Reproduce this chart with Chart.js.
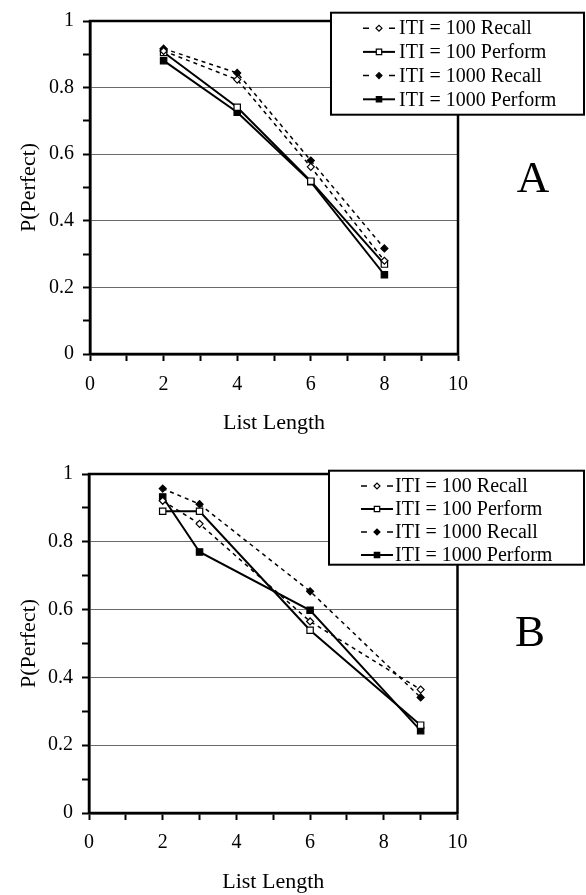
<!DOCTYPE html>
<html>
<head>
<meta charset="utf-8">
<script src="https://cdn.jsdelivr.net/npm/chart.js@4.4.1/dist/chart.umd.min.js"></script>
<style>
  body { margin: 0; background: #fff; }
  canvas { position: absolute; left: 0; }
  #chartA { top: 0; }
  #chartB { top: 447px; }
</style>
</head>
<body>
<canvas id="chartA" width="586" height="447"></canvas>
<canvas id="chartB" width="586" height="448"></canvas>
<script>
const seriesNames = ['ITI = 100 Recall', 'ITI = 100 Perform', 'ITI = 1000 Recall', 'ITI = 1000 Perform']

const listLengthA = [2, 4, 6, 8]
const recall100A = [0.91, 0.824, 0.562, 0.28]
const perform100A = [0.906, 0.741, 0.519, 0.27]
const recall1000A = [0.917, 0.844, 0.581, 0.317]
const perform1000A = [0.881, 0.726, 0.517, 0.238]

const listLengthB = [2, 3, 6, 9]
const recall100B = [0.921, 0.853, 0.565, 0.364]
const perform100B = [0.89, 0.89, 0.539, 0.259]
const recall1000B = [0.957, 0.911, 0.654, 0.341]
const perform1000B = [0.932, 0.77, 0.598, 0.243]

const xTicks = [0, 2, 4, 6, 8, 10]
const yTicks = [0, 0.2, 0.4, 0.6, 0.8, 1]

const serif = "'Liberation Serif', 'Times New Roman', serif"

function pts(xs, ys) {
    let out = []
    for (let i = 0; i < xs.length; i++) {
        out.push({ x: xs[i], y: ys[i] })
    }
    return out
}

function makeDatasets(xs, r100, p100, r1000, p1000) {
    const styles = [
        { data: r100, dash: [4, 4], width: 1.5, point: 'rectRot', radius: 3.5, fill: '#fff' },
        { data: p100, dash: [], width: 2, point: 'rect', radius: 4.5, fill: '#fff' },
        { data: r1000, dash: [4, 4], width: 1.5, point: 'rectRot', radius: 3.5, fill: '#000' },
        { data: p1000, dash: [], width: 2, point: 'rect', radius: 4.5, fill: '#000' }
    ]
    return styles.map(function (s, i) {
        return {
            label: seriesNames[i],
            data: pts(xs, s.data),
            showLine: true,
            borderColor: '#000',
            borderWidth: s.width,
            borderDash: s.dash,
            pointStyle: s.point,
            pointRadius: s.radius,
            pointBackgroundColor: s.fill,
            pointBorderColor: '#000',
            pointBorderWidth: 1.2
        }
    })
}

const framePlugin = {
    id: 'frameBox',
    beforeDatasetsDraw(chart) {
        const a = chart.chartArea
        const ctx = chart.ctx
        ctx.save()
        ctx.strokeStyle = '#000'
        ctx.lineWidth = 2.5
        ctx.strokeRect(a.left, a.top, a.right - a.left, a.bottom - a.top)
        ctx.restore()
    },
    afterDraw(chart, args, opts) {
        const ctx = chart.ctx
        ctx.save()
        // legend box
        ctx.fillStyle = '#fff'
        ctx.fillRect(opts.left, opts.top, opts.width, opts.height)
        ctx.strokeStyle = '#000'
        ctx.lineWidth = 2
        ctx.strokeRect(opts.left, opts.top, opts.width, opts.height)
        chart.data.datasets.forEach(function (ds, i) {
            const y = opts.top + opts.first + i * opts.gap
            const x0 = opts.left + 32
            const x1 = opts.left + 64
            ctx.setLineDash(ds.borderDash.length ? [6, 20] : [])
            ctx.lineWidth = ds.borderWidth
            ctx.strokeStyle = '#000'
            ctx.beginPath()
            ctx.moveTo(x0, y)
            ctx.lineTo(x1, y)
            ctx.stroke()
            ctx.setLineDash([])
            ctx.fillStyle = ds.pointBackgroundColor
            ctx.lineWidth = ds.pointBorderWidth
            Chart.helpers.drawPoint(ctx, { pointStyle: ds.pointStyle, radius: ds.pointRadius * 0.85, rotation: 0, borderWidth: ds.pointBorderWidth }, (x0 + x1) / 2, y)
            ctx.fillStyle = '#000'
            ctx.font = '20px ' + serif
            ctx.textAlign = 'left'
            ctx.textBaseline = 'middle'
            ctx.fillText(ds.label, x1 + opts.textGap, y + 1)
        })
        ctx.font = '45px ' + serif
        ctx.textAlign = 'center'
        ctx.textBaseline = 'alphabetic'
        ctx.fillStyle = '#000'
        ctx.fillText(opts.letter, opts.letterX, opts.letterY)
        ctx.restore()
    }
}

function makeConfig(datasets, lay) {
    return {
        type: 'scatter',
        data: { datasets: datasets },
        plugins: [framePlugin],
        options: {
            responsive: false,
            animation: false,
            devicePixelRatio: 1,
            layout: { padding: { top: lay.top, right: lay.right, left: 0, bottom: 0 } },
            plugins: {
                legend: { display: false },
                tooltip: { enabled: false },
                frameBox: lay.legend
            },
            scales: {
                x: {
                    type: 'linear',
                    min: 0,
                    max: 10,
                    afterFit: function (s) { s.height = lay.xHeight },
                    afterBuildTicks: function (s) {
                        let t = []
                        for (let v = 0; v <= 10; v++) t.push({ value: v })
                        s.ticks = t
                    },
                    ticks: {
                        autoSkip: false,
                        maxRotation: 0,
                        padding: lay.xPad,
                        color: '#000',
                        font: { family: serif, size: 20 },
                        callback: function (v) { return xTicks.indexOf(v) >= 0 ? String(v) : '' }
                    },
                    grid: {
                        drawOnChartArea: false,
                        drawTicks: true,
                        tickLength: 7,
                        tickColor: '#000',
                        tickWidth: 2
                    },
                    border: { display: true, color: '#000', width: 2.5 },
                    title: {
                        display: true,
                        text: 'List Length',
                        color: '#000',
                        font: { family: serif, size: 22 },
                        padding: { top: 0, bottom: lay.xTitlePad }
                    }
                },
                y: {
                    min: 0,
                    max: 1,
                    afterFit: function (s) { s.width = lay.yWidth },
                    afterBuildTicks: function (s) {
                        let t = []
                        for (let k = 0; k <= 10; k++) t.push({ value: k / 10 })
                        s.ticks = t
                    },
                    ticks: {
                        autoSkip: false,
                        padding: 9,
                        color: '#000',
                        font: { family: serif, size: 20 },
                        callback: function (v) {
                            const r = Math.round(v * 10) / 10
                            return yTicks.indexOf(r) >= 0 ? String(r) : ''
                        }
                    },
                    grid: {
                        color: function (c) {
                            const k = Math.round(c.tick.value * 10)
                            return (k % 2 === 0 && k > 0 && k < 10) ? '#6a6a6a' : 'rgba(0,0,0,0)'
                        },
                        lineWidth: 1,
                        drawTicks: true,
                        tickLength: 7,
                        tickColor: '#000',
                        tickWidth: 2
                    },
                    border: { display: true, color: '#000', width: 2.5 },
                    title: {
                        display: true,
                        text: 'P(Perfect)',
                        color: '#000',
                        font: { family: serif, size: 22 },
                        padding: { top: 15.8, bottom: 0 }
                    }
                }
            }
        }
    }
}

var chartA = new Chart(
    document.getElementById('chartA'),
    makeConfig(makeDatasets(listLengthA, recall100A, perform100A, recall1000A, perform1000A), {
        top: 16, right: 128, xHeight: 93, yWidth: 90, xPad: 12, xTitlePad: 10.8,
        legend: { left: 331, top: 12.7, width: 253, height: 102, first: 15.5, gap: 23.7, textGap: 4, letter: 'A', letterX: 533, letterY: 192 }
    })
)

var chartB = new Chart(
    document.getElementById('chartB'),
    makeConfig(makeDatasets(listLengthB, recall100B, perform100B, recall1000B, perform1000B), {
        top: 27, right: 128.5, xHeight: 82, yWidth: 89, xPad: 11, xTitlePad: 0,
        legend: { left: 329, top: 23.7, width: 255, height: 94, first: 15.3, gap: 23, textGap: 2, letter: 'B', letterX: 530, letterY: 199 }
    })
)
</script>
</body>
</html>
